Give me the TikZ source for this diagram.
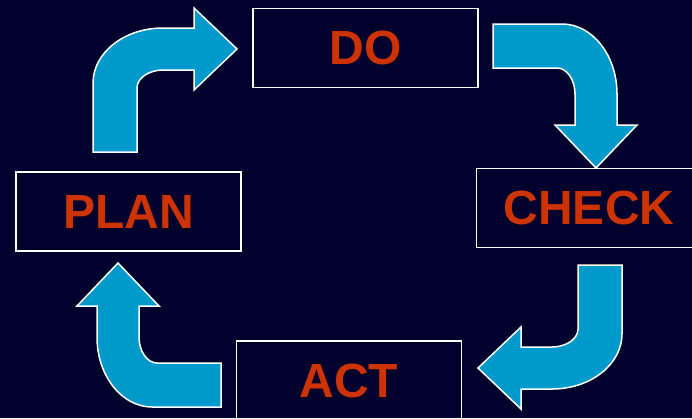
\documentclass[tikz,border=0pt]{standalone}
\usepackage{fontspec}
\setmainfont{Liberation Sans}
\definecolor{slidebg}{RGB}{0,0,45}
\definecolor{arrowblue}{RGB}{0,153,204}
\definecolor{labelred}{RGB}{204,51,0}
\begin{document}
\begin{tikzpicture}[
    x=1pt,y=-1pt,
    stage/.style={
        draw=white,
        line width=1.5pt,
        rectangle,
        minimum width=225pt,
        minimum height=79pt,
        text=labelred,
        font=\fontsize{48}{48}\selectfont\bfseries
    },
    bentarrow/.pic={
        \draw[fill=arrowblue,draw=white,line width=1.5pt]
        (0,124) -- (0,55) .. controls (0,25) and (31,0) .. (70,0)
        -- (101,0) -- (101,-20) -- (144,21) -- (101,62) -- (101,42)
        -- (70,42) .. controls (56,42) and (44,50) .. (44,60)
        -- (44,124) -- cycle;
    }
    ]

    \path[use as bounding box,fill=slidebg] (0,0) rectangle (692,418);

    \node[stage] (plan) at (128.5,211.5) {PLAN};
    \node[stage] (do) at (365.5,48) {DO};
    \node[stage] (check) at (589,208) {CHECK};
    \node[stage] (act) at (349,380.5) {ACT};

    % one bent arrow, turned for each step
    \pic (plantodo) at (93,28) {bentarrow};
    \pic[rotate=-90] (dotocheck) at (617,24) {bentarrow};
    \pic[rotate=180] (checktoact) at (622,389) {bentarrow};
    \pic[rotate=90] (acttoplan) at (97,407) {bentarrow};

\end{tikzpicture}
\end{document}
